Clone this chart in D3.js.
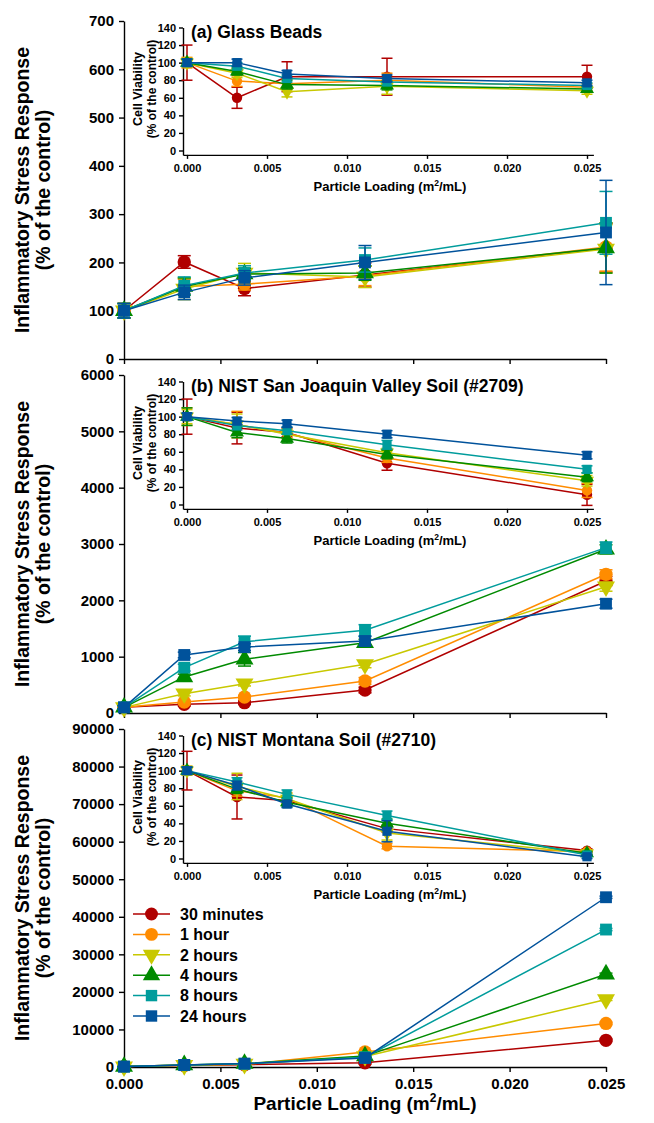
<!DOCTYPE html>
<html>
<head>
<meta charset="utf-8">
<script src="https://cdnjs.cloudflare.com/ajax/libs/d3/7.8.5/d3.min.js"></script>
<style>
  body { margin: 0; background: #fff; }
  svg { display: block; font-family: "Liberation Sans", Arial, sans-serif; font-weight: bold; }
</style>
</head>
<body>
<svg id="chart" width="654" height="1123"></svg>
<script>
// ---- data ----
const loading = [0, 0.003125, 0.00625, 0.0125, 0.025];
const seriesNames = ["30 minutes", "1 hour", "2 hours", "4 hours", "8 hours", "24 hours"];
const seriesColors = ["#b00000", "#ff8c00", "#c8c800", "#008a00", "#009c9c", "#00529b"];
const seriesShapes = ["circle", "circle", "down", "up", "square", "square"];
const xTickValues = [0, 0.005, 0.010, 0.015, 0.020, 0.025];
const viabTicks = [0, 20, 40, 60, 80, 100, 120, 140];

const panelTitles = ["(a) Glass Beads", "(b) NIST San Joaquin Valley Soil (#2709)", "(c) NIST Montana Soil (#2710)"];
const stressTicksA = [0, 100, 200, 300, 400, 500, 600, 700];
const stressTicksB = [0, 1000, 2000, 3000, 4000, 5000, 6000];
const stressTicksC = [0, 10000, 20000, 30000, 40000, 50000, 60000, 70000, 80000, 90000];

// (a) glass beads
const glassStress = [
  [100, 201, 146, 174, 230],
  [100, 150, 155, 172, 232],
  [100, 145, 178, 170, 228],
  [100, 150, 176, 178, 230],
  [100, 152, 178, 205, 282],
  [100, 138, 168, 200, 262]
];
const glassStressErr = [
  [15, 13, 15, 25, 50],
  [15, 15, 12, 20, 50],
  [15, 22, 20, 22, 50],
  [15, 18, 12, 15, 52],
  [15, 18, 15, 25, 65],
  [15, 15, 15, 35, 108]
];
const glassViab = [
  [100, 60, 84, 84, 84],
  [100, 79, 76, 80, 72],
  [100, 88, 67, 73, 68],
  [100, 90, 75, 74, 70],
  [100, 96, 82, 78, 74],
  [100, 100, 87, 82, 77]
];
const glassViabErr = [
  [20, 12, 17, 21, 13],
  [6, 6, 5, 8, 4],
  [5, 5, 6, 9, 4],
  [4, 4, 5, 5, 3],
  [4, 4, 4, 4, 3],
  [4, 4, 4, 4, 3]
];

// (b) San Joaquin soil
const sjStress = [
  [100, 155, 183, 408, 2343],
  [100, 195, 284, 568, 2462],
  [100, 343, 520, 864, 2242],
  [100, 640, 953, 1248, 2906],
  [100, 805, 1265, 1468, 2935],
  [100, 1030, 1170, 1278, 1940]
];
const sjStressErr = [
  [30, 30, 30, 50, 80],
  [30, 30, 30, 60, 80],
  [30, 40, 40, 60, 80],
  [30, 50, 120, 60, 80],
  [30, 60, 100, 100, 100],
  [30, 50, 60, 80, 80]
];
const sjViab = [
  [100, 87, 82, 47, 11],
  [100, 91, 81, 53, 16],
  [100, 91, 80, 59, 27],
  [100, 82, 75, 57, 31],
  [100, 90, 84, 68, 40],
  [100, 95, 92, 80, 56]
];
const sjViabErr = [
  [20, 18, 5, 8, 12],
  [10, 15, 5, 5, 8],
  [8, 12, 5, 5, 6],
  [10, 6, 5, 5, 5],
  [4, 5, 4, 5, 4],
  [4, 4, 4, 4, 4]
];

// (c) Montana soil
const mtStress = [
  [100, 400, 600, 1100, 7100],
  [100, 500, 700, 4000, 11600],
  [100, 450, 800, 2800, 18000],
  [100, 550, 900, 2900, 24700],
  [100, 500, 850, 2600, 36600],
  [100, 550, 900, 2400, 45200]
];
const mtStressErr = [
  [50, 100, 100, 300, 300],
  [50, 100, 100, 300, 300],
  [50, 100, 100, 300, 300],
  [50, 100, 100, 300, 300],
  [50, 100, 100, 300, 300],
  [50, 100, 100, 300, 300]
];
const mtViab = [
  [100, 70, 66, 34, 9],
  [100, 77, 69, 14, 8],
  [100, 82, 68, 29, 6],
  [100, 79, 64, 40, 6],
  [100, 87, 73, 49, 4],
  [100, 83, 62, 31, 2]
];
const mtViabErr = [
  [22, 25, 5, 4, 2],
  [5, 6, 6, 3, 2],
  [5, 15, 6, 8, 2],
  [4, 5, 5, 5, 2],
  [4, 5, 5, 5, 2],
  [4, 5, 4, 12, 2]
];

const panels = [
  { title: panelTitles[0], ticks: stressTicksA, stress: glassStress, stressErr: glassStressErr, viab: glassViab, viabErr: glassViabErr },
  { title: panelTitles[1], ticks: stressTicksB, stress: sjStress, stressErr: sjStressErr, viab: sjViab, viabErr: sjViabErr },
  { title: panelTitles[2], ticks: stressTicksC, stress: mtStress, stressErr: mtStressErr, viab: mtViab, viabErr: mtViabErr }
];

// ---- layout ----
const svg = d3.select("#chart");
const panelTop = [21, 375, 729];
const panelH = 338;
const mainLeft = 124, mainRight = 606;

const xMain = d3.scaleLinear().domain([0, 0.025]).range([mainLeft, mainRight]);

function markerPath(shape, area) {
  if (shape === "circle") return d3.symbol(d3.symbolCircle, area)();
  if (shape === "square") return d3.symbol(d3.symbolSquare, area)();
  return d3.symbol(d3.symbolTriangle, area)();
}

function drawSeries(g, x, y, values, errs, area, capW, lw) {
  values.forEach((vals, i) => {
    const col = seriesColors[i];
    const pts = vals.map((v, j) => ({ x: loading[j], y: v, e: errs[i][j] }));
    const s = g.append("g");
    s.append("path")
      .datum(pts)
      .attr("fill", "none")
      .attr("stroke", col)
      .attr("stroke-width", lw)
      .attr("d", d3.line().x(d => x(d.x)).y(d => y(d.y)));
    // error bars
    const eb = s.selectAll(".err").data(pts).join("g").attr("class", "err")
      .attr("stroke", col).attr("stroke-width", lw);
    eb.append("line")
      .attr("x1", d => x(d.x)).attr("x2", d => x(d.x))
      .attr("y1", d => y(d.y - d.e)).attr("y2", d => y(d.y + d.e));
    eb.append("line")
      .attr("x1", d => x(d.x) - capW / 2).attr("x2", d => x(d.x) + capW / 2)
      .attr("y1", d => y(d.y + d.e)).attr("y2", d => y(d.y + d.e));
    eb.append("line")
      .attr("x1", d => x(d.x) - capW / 2).attr("x2", d => x(d.x) + capW / 2)
      .attr("y1", d => y(d.y - d.e)).attr("y2", d => y(d.y - d.e));
    s.selectAll(".mk").data(pts).join("path").attr("class", "mk")
      .attr("d", markerPath(seriesShapes[i], area))
      .attr("fill", col)
      .attr("transform", d => `translate(${x(d.x)},${y(d.y)})` + (seriesShapes[i] === "down" ? " rotate(180)" : ""));
  });
}

function styleAxis(g, size) {
  g.selectAll("path, line").attr("stroke", "#000").attr("stroke-width", 1.4);
  g.selectAll("text").attr("fill", "#000")
    .style("font-size", size + "px")
    .style("font-family", '"Liberation Sans", Arial, sans-serif')
    .style("font-weight", "bold");
}

panels.forEach((p, k) => {
  const top = panelTop[k];
  const bottom = top + panelH;
  const yMain = d3.scaleLinear().domain([0, p.ticks[p.ticks.length - 1]]).range([bottom, top]);

  // main axes
  const ya = svg.append("g").attr("transform", `translate(${mainLeft},0)`)
    .call(d3.axisLeft(yMain).tickValues(p.ticks).tickFormat(d3.format("d"))
      .tickSize(5).tickPadding(5).tickSizeOuter(0));
  styleAxis(ya, 15);
  const xa = svg.append("g").attr("transform", `translate(0,${bottom})`)
    .call(d3.axisBottom(xMain).tickValues(xTickValues).tickSize(5).tickPadding(6).tickSizeOuter(0)
      .tickFormat(k === 2 ? d3.format(".3f") : ""));
  styleAxis(xa, 15);

  // main y-axis title
  const cy = top + panelH / 2;
  svg.append("text").attr("transform", `translate(29,${cy}) rotate(-90)`)
    .attr("text-anchor", "middle").style("font-size", "19.5px").text("Inflammatory Stress Response");
  svg.append("text").attr("transform", `translate(50,${cy}) rotate(-90)`)
    .attr("text-anchor", "middle").style("font-size", "19.5px").text("(% of the control)");

  drawSeries(svg.append("g"), xMain, yMain, p.stress, p.stressErr, 140, 13, 1.5);

  // inset
  const i140 = top + 6.5;
  const k140 = 123 / 140;
  const yIn = d3.scaleLinear().domain([-5, 140]).range([i140 + 145 * k140, i140]);
  const xIn = d3.scaleLinear().domain([-0.00025, 0.0254]).range([183, 593.4]);

  const iya = svg.append("g").attr("transform", `translate(183,0)`)
    .call(d3.axisLeft(yIn).tickValues(viabTicks).tickSize(4).tickPadding(3).tickSizeOuter(0));
  styleAxis(iya, 11);
  const ixa = svg.append("g").attr("transform", `translate(0,${yIn(-5)})`)
    .call(d3.axisBottom(xIn).tickValues(xTickValues).tickSize(4).tickPadding(5).tickSizeOuter(0)
      .tickFormat(d3.format(".3f")));
  styleAxis(ixa, 11);

  const icy = i140 + 61.5;
  svg.append("text").attr("transform", `translate(142,${icy}) rotate(-90)`)
    .attr("text-anchor", "middle").style("font-size", "12.5px").text("Cell Viability");
  svg.append("text").attr("transform", `translate(156,${icy}) rotate(-90)`)
    .attr("text-anchor", "middle").style("font-size", "12px").text("(% of the control)");

  const lt = svg.append("text").attr("x", 390).attr("y", top + 170)
    .attr("text-anchor", "middle").style("font-size", "13px");
  lt.append("tspan").text("Particle Loading (m");
  lt.append("tspan").attr("dy", -5).style("font-size", "8.5px").text("2");
  lt.append("tspan").attr("dy", 5).text("/mL)");

  drawSeries(svg.append("g"), xIn, yIn, p.viab, p.viabErr, 85, 11, 1.5);

  svg.append("text").attr("x", 191).attr("y", top + 17)
    .style("font-size", "17.5px").text(p.title);
});

// main x title
const mt = svg.append("text").attr("x", 365).attr("y", 1110)
  .attr("text-anchor", "middle").style("font-size", "19px");
mt.append("tspan").text("Particle Loading (m");
mt.append("tspan").attr("dy", -8).style("font-size", "12px").text("2");
mt.append("tspan").attr("dy", 8).text("/mL)");

// legend
const legend = svg.append("g");
seriesNames.forEach((name, i) => {
  const yy = 914 + i * 20.4;
  const row = legend.append("g").attr("transform", `translate(0,${yy})`);
  row.append("line").attr("x1", 133).attr("x2", 170).attr("y1", 0).attr("y2", 0)
    .attr("stroke", seriesColors[i]).attr("stroke-width", 1.5);
  row.append("path").attr("d", markerPath(seriesShapes[i], 130))
    .attr("fill", seriesColors[i])
    .attr("transform", `translate(151.5,0)` + (seriesShapes[i] === "down" ? " rotate(180)" : ""));
  row.append("text").attr("x", 180).attr("dy", "0.36em").style("font-size", "16px").text(name);
});
</script>
</body>
</html>
